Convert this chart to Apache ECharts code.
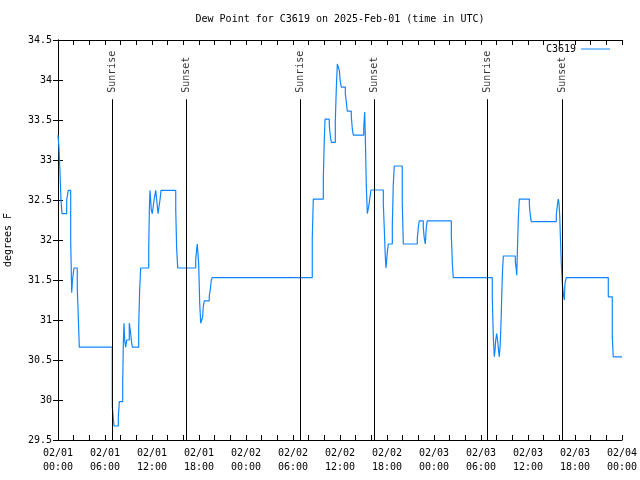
<!DOCTYPE html>
<html>
<head>
<meta charset="utf-8">
<script src="https://cdn.jsdelivr.net/npm/echarts@6/dist/echarts.min.js"></script>
<style>html,body{margin:0;padding:0;background:#fff}#c{width:640px;height:480px}</style>
</head>
<body>
<div id="c"></div>
<script>
// Hours since 2025-02-01 00:00 UTC
var dewHours = [0.00,0.13,0.26,0.38,0.51,1.11,1.31,1.62,1.75,1.85,2.04,2.46,2.64,2.72,
  6.93,7.15,7.70,7.83,8.26,8.34,8.43,8.51,8.64,8.77,9.10,9.28,9.36,9.49,10.30,10.43,10.56,
  11.58,11.66,11.74,11.83,11.91,12.04,12.26,12.47,12.60,12.77,13.02,13.15,15.03,15.15,15.28,
  17.58,17.71,17.78,17.96,18.09,18.22,18.47,18.55,18.68,19.31,19.44,19.57,19.70,
  32.46,32.59,33.87,34.00,34.09,34.63,34.76,34.89,35.40,35.53,35.66,35.91,36.04,36.17,36.68,
  36.81,36.93,37.44,37.57,37.70,39.03,39.15,39.23,39.36,39.49,39.70,39.83,39.96,
  41.53,41.66,41.78,41.87,41.96,42.04,42.17,42.68,42.80,42.93,43.95,44.08,45.87,46.00,46.12,
  46.63,46.76,46.89,47.02,47.14,50.21,50.34,50.46,
  55.44,55.57,55.70,55.79,55.88,56.00,56.17,56.26,56.34,56.46,56.59,56.72,56.85,58.38,58.51,
  58.56,58.63,58.76,58.89,60.17,60.29,60.42,63.61,63.74,63.87,63.96,64.05,64.12,64.25,64.38,
  64.51,64.64,64.72,64.89,70.25,70.76,70.88,72.00];
var dewValues = [33.31,33.15,32.83,32.5,32.33,32.5,32.62,31.99,31.34,31.5,31.65,31.4,30.9,30.66,
  29.92,29.675,29.79,29.98,30.22,30.71,30.96,30.75,30.66,30.75,30.96,30.83,30.75,30.66,30.9,31.4,31.65,
  31.89,32.375,32.62,32.5,32.375,32.33,32.5,32.62,32.5,32.33,32.5,32.62,32.375,31.89,31.65,
  31.75,31.89,31.95,31.7,31.21,30.96,31.04,31.17,31.24,31.3,31.38,31.5,31.53,
  32.02,32.51,32.77,33.27,33.51,33.44,33.3,33.22,33.48,33.9,34.2,34.12,33.98,33.91,33.83,
  33.72,33.61,33.55,33.39,33.31,33.4,33.6,33.31,32.67,32.33,32.44,32.54,32.625,
  32.46,32.125,31.8,31.65,31.75,31.85,31.95,32.19,32.69,32.925,32.46,31.95,32.02,32.16,32.24,
  32.16,32.02,31.95,32.16,32.24,32.06,31.71,31.53,
  31.29,30.79,30.54,30.62,30.75,30.83,30.7,30.6,30.54,30.7,31.08,31.56,31.8,31.73,31.625,
  31.56,31.8,32.26,32.51,32.45,32.31,32.23,32.31,32.425,32.51,32.45,32.31,32.08,31.71,31.46,
  31.33,31.25,31.46,31.53,31.29,30.79,30.54,30.54];
var eventHours = [6.93, 16.38, 30.98, 40.38, 54.80, 64.38];
var eventNames = ['Sunrise','Sunset','Sunrise','Sunset','Sunrise','Sunset'];
var eventLineTop = 33.76;
var eventLabelBase = 33.84;
var dayLabels = ['02/01','02/02','02/03','02/04'];
var seriesName = 'C3619';
var titleText = 'Dew Point for C3619 on 2025-Feb-01 (time in UTC)';
var yName = 'degrees F';

var FONT = 'DejaVu Sans Mono';
var dewData = dewHours.map(function(h, i){ return [h, dewValues[i]]; });
var eventPts = eventHours.map(function(h){ return [h, eventLabelBase]; });
var eventLines = eventHours.map(function(h){ return [{coord:[h, 29.5]}, {coord:[h, eventLineTop]}]; });

function pad(n){ return (n < 10 ? '0' : '') + n; }
function xFmt(v){
  if (Math.abs(v % 6) > 1e-6) return '';
  var d = Math.floor(v / 24 + 1e-6);
  var hh = Math.round(v - d * 24);
  return dayLabels[d] + '\n' + pad(hh) + ':00';
}

var chart = echarts.init(document.getElementById('c'), null, {renderer:'canvas'});
var axisCommon = {
  axisLine: {show:true, lineStyle:{color:'#000', width:1}},
  axisTick: {show:true, inside:true, length:5, lineStyle:{color:'#000', width:1}},
  splitLine: {show:false}
};
chart.setOption({
  animation: false,
  backgroundColor: '#fff',
  title: {
    text: titleText, left: 340, top: 14, textAlign: 'center', padding: 0,
    textStyle: {fontFamily: FONT, fontSize: 10, fontWeight: 'normal', color: '#000'}
  },
  legend: {
    data: [seriesName], right: 30, top: 44, padding: 0, align: 'right',
    icon: 'rect', itemWidth: 29, itemHeight: 1,
    textStyle: {fontFamily: FONT, fontSize: 10, color: '#000'}
  },
  grid: {left: 58, right: 18, top: 40, bottom: 40, containLabel: false, outerBoundsMode: 'none'},
  xAxis: [
    Object.assign({type:'value', min:0, max:72, interval:2, position:'bottom',
      axisLabel: {formatter: xFmt, fontFamily: FONT, fontSize: 10, color:'#000', lineHeight: 14, margin: 6}
    }, axisCommon),
    Object.assign({type:'value', min:0, max:72, interval:2, position:'top',
      axisLabel: {show:false}}, axisCommon)
  ],
  yAxis: [
    Object.assign({type:'value', min:29.5, max:34.5, interval:0.5, position:'left',
      name: yName, nameLocation: 'middle', nameGap: 45,
      nameTextStyle: {fontFamily: FONT, fontSize: 10, color:'#000'},
      axisLabel: {fontFamily: FONT, fontSize: 10, color:'#000', margin: 6}
    }, axisCommon),
    Object.assign({type:'value', min:29.5, max:34.5, interval:0.5, position:'right',
      axisLabel: {show:false}}, axisCommon)
  ],
  series: [
    {
      name: seriesName, type: 'line', step: 'end', data: dewData,
      showSymbol: false, symbol: 'none',
      lineStyle: {color: '#0f86ff', width: 1.2},
      itemStyle: {color: '#0f86ff'},
      z: 2
    },
    {
      name: 'events', type: 'scatter', data: eventPts, symbolSize: 0,
      silent: true, z: 3,
      label: {
        show: true, position: 'inside', rotate: 90, align: 'left', verticalAlign: 'middle',
        formatter: function(p){ return eventNames[p.dataIndex]; },
        fontFamily: FONT, fontSize: 10, color: '#000'
      },
      markLine: {
        silent: true, symbol: ['none','none'], animation: false,
        label: {show: false},
        lineStyle: {color: '#000', width: 1, type: 'solid'},
        data: eventLines
      }
    }
  ]
});
</script>
</body>
</html>
